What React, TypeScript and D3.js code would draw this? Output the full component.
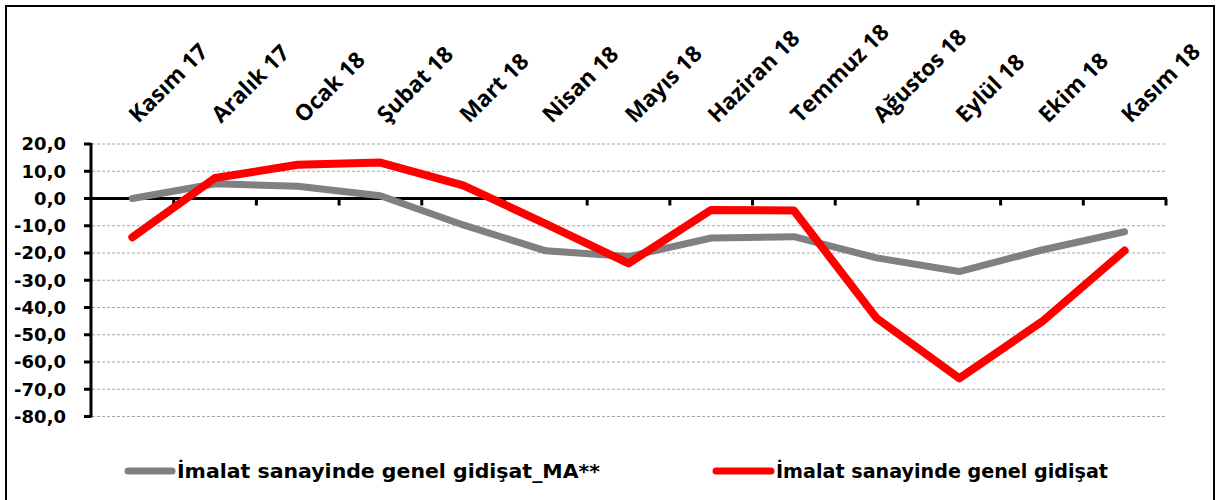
import React from "react";
import * as d3 from "d3";

const months = [
  "Kasım 17", "Aralık 17", "Ocak 18", "Şubat 18", "Mart 18", "Nisan 18", "Mayıs 18",
  "Haziran 18", "Temmuz 18", "Ağustos 18", "Eylül 18", "Ekim 18", "Kasım 18",
];
const maSeries = [0, 5.4, 4.5, 1.0, -9.7, -19.2, -21.3, -14.5, -14.0, -21.8, -26.8, -18.9, -12.2];
const genelSeries = [-14.2, 7.5, 12.4, 13.2, 4.8, -9.3, -23.8, -4.2, -4.4, -43.9, -66.0, -45.2, -19.1];
const yTicks = [20, 10, 0, -10, -20, -30, -40, -50, -60, -70, -80];

const legendItems = [
  { label: "İmalat sanayinde genel gidişat_MA**", color: "#808080", x: 128, textX: 177, len: 423 },
  { label: "İmalat sanayinde genel gidişat", color: "#ff0000", x: 716, textX: 776, len: 332 },
];

const FONT = "'DejaVu Sans', sans-serif";
const LABEL_FONT = "'Open Sans', sans-serif";

export default function App() {
  const width = 1217;
  const height = 500;

  const x = d3.scaleBand<string>().domain(months).range([91, 1166]).padding(0);
  const y = d3.scaleLinear().domain([-80, 20]).range([416.5, 144]);
  const cx = (m: string) => (x(m) as number) + x.bandwidth() / 2;
  const fmt = (v: number) => d3.format(".1f")(v).replace(".", ",").replace("−", "-");

  const line = d3
    .line<number>()
    .x((_, i) => cx(months[i]))
    .y((d) => y(d));

  return (
    <svg width={width} height={height} style={{ display: "block", position: "absolute", left: 0, top: 0 }}>
      <rect x={0} y={0} width={width} height={height} fill="#fff" />
      <rect x={6} y={6} width={1208} height={520} fill="none" stroke="#000" strokeWidth={2} />

      {/* grid */}
      {yTicks.filter((t) => t !== 0).map((t) => (
        <line key={t} x1={92} x2={1166} y1={y(t)} y2={y(t)} stroke="#a6a6a6" strokeWidth={1} strokeDasharray="3,2" />
      ))}

      {/* y axis */}
      <line x1={91} x2={91} y1={y(20) - 1} y2={y(-80) + 1} stroke="#000" strokeWidth={3} />
      {yTicks.map((t) => (
        <g key={t}>
          <line x1={84} x2={91} y1={y(t)} y2={y(t)} stroke="#000" strokeWidth={3} />
          <text x={66} y={y(t)} dy="0.36em" textAnchor="end" fontFamily={FONT} fontWeight="bold" fontSize={18}>
            {fmt(t)}
          </text>
        </g>
      ))}

      {/* x axis at zero */}
      <line x1={90} x2={1167} y1={y(0)} y2={y(0)} stroke="#000" strokeWidth={3} />
      {months.slice(1).map((m) => (
        <line key={m} x1={x(m)} x2={x(m)} y1={y(0)} y2={y(0) + 7} stroke="#000" strokeWidth={3} />
      ))}
      <line x1={1166} x2={1166} y1={y(0)} y2={y(0) + 7} stroke="#000" strokeWidth={3} />

      {months.map((m) => (
        <text
          key={m}
          transform={`translate(${cx(m) + 6},${124}) rotate(-45)`}
          fontFamily={LABEL_FONT}
          fontWeight="bold"
          fontSize={22.5}
        >
          {m}
        </text>
      ))}

      <path d={line(maSeries) as string} fill="none" stroke="#808080" strokeWidth={7} strokeLinejoin="round" strokeLinecap="round" />
      <path d={line(genelSeries) as string} fill="none" stroke="#ff0000" strokeWidth={8} strokeLinejoin="round" strokeLinecap="round" />

      {legendItems.map((it) => (
        <g key={it.label}>
          <line x1={it.x} x2={it.textX - 5} y1={471} y2={471} stroke={it.color} strokeWidth={7} strokeLinecap="round" />
          <text
            x={it.textX}
            y={478}
            fontFamily={FONT}
            fontWeight="bold"
            fontSize={19}
            textLength={it.len}
            lengthAdjust="spacingAndGlyphs"
          >
            {it.label}
          </text>
        </g>
      ))}
    </svg>
  );
}
